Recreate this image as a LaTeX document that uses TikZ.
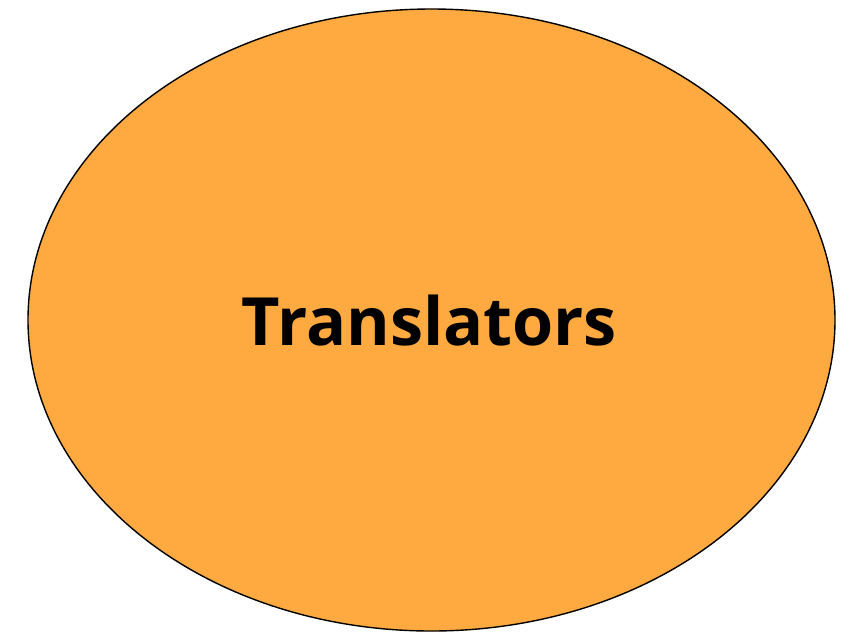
\documentclass[tikz,border=0pt]{standalone}
\usepackage{fontspec}
\setmainfont{Open Sans}
\usetikzlibrary{shapes.geometric}
\definecolor{fillorange}{RGB}{255,170,64}
\tikzset{blob/.style={ellipse, draw=black, line width=1.4pt, fill=fillorange, minimum width=807pt, minimum height=622pt, inner sep=0pt},
label/.style={font=\fontsize{73}{80}\selectfont\bfseries, text=black, inner sep=0pt}}
\begin{document}
\begin{tikzpicture}[x=1pt,y=-1pt]
\useasboundingbox (0,0) rectangle (851,633);
\node[blob] (e) at (431.5,320) {};
\node[label, anchor=base] (t) at (429.5,345) {\resizebox{375pt}{!}{Translators}};
\end{tikzpicture}
\end{document}
